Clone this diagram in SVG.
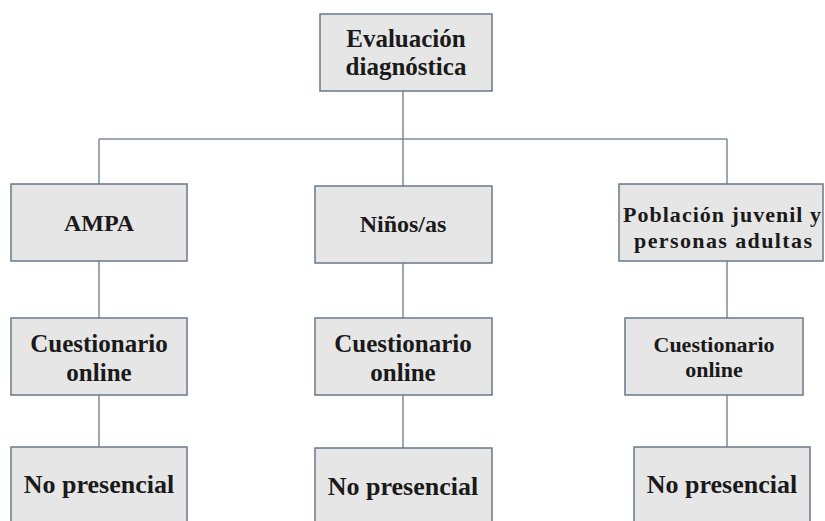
<svg xmlns="http://www.w3.org/2000/svg" width="825" height="521" viewBox="0 0 825 521">
<style>
.box{fill:#e6e6e6;stroke:#6b7888;stroke-width:1.5}
.t{font-family:'Liberation Serif','DejaVu Serif',serif;font-weight:700;fill:#1a1a1a;text-anchor:middle}
.c{stroke:#7d8ba0;stroke-width:1.5;fill:none}
</style>
<rect width="825" height="521" fill="#ffffff"/>
<g id="connectors">
<path class="c" d="M403 91V139M99 139H727M99 139V184M403 139V186M727 139V184"/>
<path class="c" d="M99 261V318M403 263V318M727 261V318"/>
<path class="c" d="M99 395V447M403 395V448M727 395V447"/>
</g>
<g id="n-eval">
<rect class="box" x="320" y="14" width="172" height="77"/>
<text class="t" x="406" y="47" font-size="25">Evaluación</text>
<text class="t" x="406" y="75" font-size="25">diagnóstica</text>
</g>
<g id="n-ampa">
<rect class="box" x="11" y="184" width="176" height="77"/>
<text class="t" x="99" y="231" font-size="24">AMPA</text>
</g>
<g id="n-ninos">
<rect class="box" x="315" y="186" width="177" height="77"/>
<text class="t" x="403" y="232" font-size="24">Niños/as</text>
</g>
<g id="n-poblacion">
<rect class="box" x="619" y="184" width="204" height="77"/>
<text class="t" x="722" y="222" font-size="22" textLength="198" lengthAdjust="spacing">Población juvenil y</text>
<text class="t" x="723" y="248" font-size="22" textLength="178" lengthAdjust="spacing">personas adultas</text>
</g>
<g id="n-cuest-1">
<rect class="box" x="11" y="318" width="176" height="77"/>
<text class="t" x="99" y="352" font-size="25">Cuestionario</text>
<text class="t" x="99" y="381" font-size="25">online</text>
</g>
<g id="n-cuest-2">
<rect class="box" x="315" y="318" width="177" height="77"/>
<text class="t" x="403" y="352" font-size="25">Cuestionario</text>
<text class="t" x="403" y="381" font-size="25">online</text>
</g>
<g id="n-cuest-3">
<rect class="box" x="625" y="318" width="178" height="77"/>
<text class="t" x="714" y="352" font-size="22">Cuestionario</text>
<text class="t" x="714" y="377" font-size="22">online</text>
</g>
<g id="n-nopres-1">
<rect class="box" x="11" y="447" width="176" height="85"/>
<text class="t" x="99" y="493" font-size="26">No presencial</text>
</g>
<g id="n-nopres-2">
<rect class="box" x="315" y="448" width="177" height="85"/>
<text class="t" x="403" y="495" font-size="26">No presencial</text>
</g>
<g id="n-nopres-3">
<rect class="box" x="634" y="447" width="176" height="85"/>
<text class="t" x="722" y="493" font-size="26">No presencial</text>
</g>
</svg>
